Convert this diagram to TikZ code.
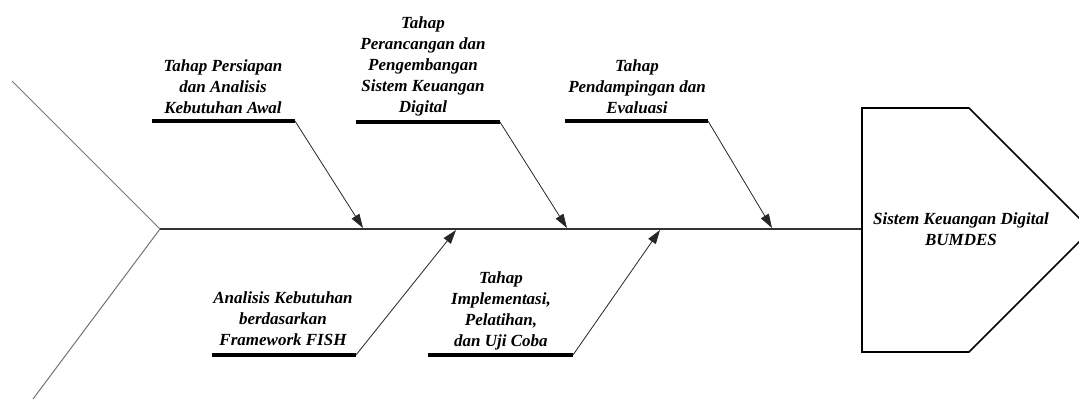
\documentclass[tikz,border=0pt]{standalone}
\usepackage{fontspec}
\setmainfont{Liberation Serif}
\usetikzlibrary{arrows.meta,positioning}

\begin{document}
\begin{tikzpicture}[x=1pt, y=-1pt,
  cause/.style={font=\fontsize{17}{21}\selectfont\bfseries\itshape,
                align=center, inner sep=0pt, text depth=0pt, anchor=south},
  bar/.style={line width=4pt, line cap=butt},
  bone/.style={-{Triangle[length=14pt,width=9pt]}, line width=0.8pt, draw=black!85},
  spine/.style={line width=1.8pt, draw=black!80},
  tail/.style={line width=1pt, draw=black!55},
  headline/.style={line width=1.6pt, line join=miter}
]
  \useasboundingbox (0,0) rectangle (1079,399);

  \coordinate (tt) at (12,81);
  \coordinate (tb) at (33,399);
  \coordinate (tail) at (160,229);
  \coordinate (neck) at (862,229);
  \draw[tail] (tt) -- (tail) -- (tb);
  \draw[spine] (tail) -- (neck);

  \draw[headline] (862,108) -- (969,108) -- (1091,230) -- (969,352) -- (862,352) -- cycle;
  \node[cause, anchor=center] (fx) at (961,229) {Sistem Keuangan Digital\\BUMDES};

  \node[cause] (c1) at (223,114) {Tahap Persiapan\\dan Analisis\\Kebutuhan Awal};
  \node[cause] (c2) at (423,113) {Tahap\\Perancangan dan\\Pengembangan\\Sistem Keuangan\\Digital};
  \node[cause] (c3) at (637,114) {Tahap\\Pendampingan dan\\Evaluasi};
  \node[cause] (c4) at (283,346) {Analisis Kebutuhan\\berdasarkan\\Framework FISH};
  \node[cause] (c5) at (501,347) {Tahap\\Implementasi,\\Pelatihan,\\dan Uji Coba};

  \coordinate (b1) at (152,121); \coordinate (e1) at (295,121);
  \coordinate (b2) at (356,122); \coordinate (e2) at (500,122);
  \coordinate (b3) at (565,121); \coordinate (e3) at (708,121);
  \coordinate (b4) at (212,355); \coordinate (e4) at (356,355);
  \coordinate (b5) at (428,355); \coordinate (e5) at (573,355);

  \coordinate (s1) at (363,228);
  \coordinate (s2) at (567,228);
  \coordinate (s3) at (772,228);
  \coordinate (s4) at (456,230);
  \coordinate (s5) at (660,230);

  \foreach \i in {1,...,5}
    \draw[bar] (b\i) -- (e\i);
  \foreach \i in {1,...,5}
    \draw[bone] (e\i) -- (s\i);
\end{tikzpicture}
\end{document}
